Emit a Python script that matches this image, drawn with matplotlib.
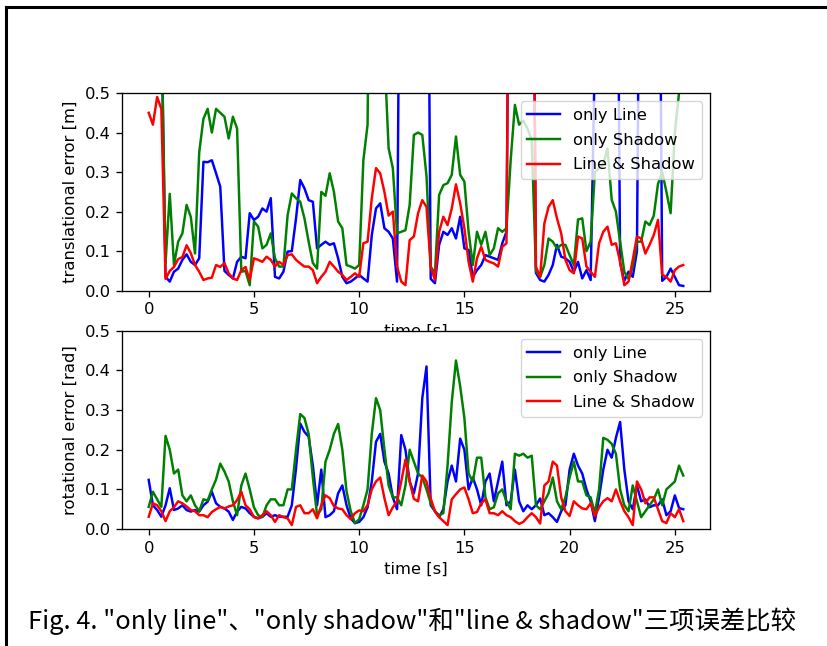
import numpy as np
import matplotlib
matplotlib.use("Agg")
import matplotlib.pyplot as plt
from matplotlib.lines import Line2D

# sampling of the logged errors [s]
dt = 0.2
n = 128
time = np.round(np.arange(n) * dt, 1)

HI = 1.5  # values above the 0.5 limit (clipped in the figure)

# translational error [m]
trans_line = [
    HI, HI, HI, 0.7, 0.035, 0.023, 0.048, 0.056, 0.078, 0.092,
    0.073, 0.065, 0.082, 0.326, 0.325, 0.33, 0.297, 0.263, 0.05, 0.04,
    0.031, 0.073, 0.086, 0.082, 0.196, 0.179, 0.187, 0.208, 0.2, 0.234,
    0.035, 0.031, 0.048, 0.099, 0.1, 0.183, 0.28, 0.259, 0.229, 0.225,
    0.107, 0.116, 0.124, 0.116, 0.12, 0.082, 0.035, 0.019, 0.023, 0.031,
    0.04, 0.031, 0.023, 0.141, 0.208, 0.221, 0.158, 0.149, 0.132, 0.023,
    HI, HI, HI, HI, HI, HI, HI, 0.03, 0.019, 0.116,
    0.149, 0.141, 0.158, 0.132, 0.187, 0.107, 0.103, 0.035, 0.052, 0.065,
    0.09, 0.086, 0.082, 0.078, 0.12, 0.149, HI, HI, HI, HI,
    HI, HI, 0.045, 0.027, 0.023, 0.04, 0.065, 0.116, 0.086, 0.082,
    0.073, 0.048, 0.073, 0.031, 0.052, 0.027, 0.6, HI, HI, HI,
    HI, HI, 0.07, 0.025, 0.048, 0.035, 0.1, HI, HI, HI,
    HI, HI, 0.025, 0.035, 0.056, 0.035, 0.014, 0.012,
]
trans_shadow = [
    HI, HI, HI, 0.7, 0.07, 0.245, 0.065, 0.124, 0.145, 0.217,
    0.187, 0.094, 0.35, 0.435, 0.46, 0.40, 0.46, 0.45, 0.44, 0.385,
    0.44, 0.41, 0.048, 0.05, 0.014, 0.175, 0.162, 0.107, 0.116, 0.145,
    0.082, 0.061, 0.061, 0.191, 0.246, 0.234, 0.225, 0.183, 0.124, 0.07,
    0.056, 0.25, 0.24, 0.297, 0.25, 0.175, 0.158, 0.065, 0.061, 0.056,
    0.065, 0.33, 0.42, HI, HI, HI, 0.6, 0.36, 0.31, 0.145,
    0.149, 0.153, 0.217, 0.394, 0.40, 0.394, 0.29, 0.061, 0.044, 0.242,
    0.267, 0.272, 0.293, 0.39, 0.293, 0.276, 0.149, 0.065, 0.149, 0.116,
    0.149, 0.09, 0.107, 0.158, 0.149, 0.158, 0.33, 0.47, 0.42, 0.43,
    0.41, 0.38, 0.05, 0.035, 0.065, 0.132, 0.124, 0.107, 0.116, 0.116,
    0.09, 0.065, 0.18, 0.183, 0.1, 0.124, 0.3, 0.31, 0.32, 0.36,
    0.23, 0.2, 0.124, 0.048, 0.03, 0.06, 0.124, 0.124, 0.175, 0.166,
    0.19, 0.27, 0.30, 0.25, 0.196, 0.40, 0.5, 0.7,
]
trans_both = [
    0.45, 0.42, 0.49, 0.46, 0.03, 0.05, 0.06, 0.08, 0.085, 0.115,
    0.095, 0.065, 0.048, 0.027, 0.031, 0.033, 0.065, 0.06, 0.07, 0.044,
    0.031, 0.027, 0.052, 0.06, 0.027, 0.082, 0.078, 0.073, 0.086, 0.078,
    0.061, 0.073, 0.065, 0.09, 0.092, 0.078, 0.069, 0.061, 0.061, 0.052,
    0.019, 0.035, 0.048, 0.073, 0.061, 0.048, 0.04, 0.027, 0.035, 0.044,
    0.035, 0.12, 0.124, 0.234, 0.31, 0.297, 0.25, 0.19, 0.2, 0.061,
    0.023, 0.014, 0.128, 0.137, 0.196, 0.229, 0.212, 0.061, 0.027, 0.149,
    0.187, 0.166, 0.208, 0.269, 0.221, 0.158, 0.073, 0.023, 0.082, 0.111,
    0.078, 0.073, 0.069, 0.061, 0.111, 0.12, HI, HI, HI, HI,
    HI, HI, 0.06, 0.035, 0.17, 0.212, 0.229, 0.183, 0.145, 0.078,
    0.052, 0.044, 0.137, 0.132, 0.061, 0.048, 0.035, 0.12, 0.149, 0.162,
    0.116, 0.12, 0.073, 0.014, 0.023, 0.078, 0.137, 0.132, 0.094, 0.116,
    0.141, 0.179, 0.04, 0.035, 0.023, 0.052, 0.061, 0.065,
]

# rotational error [rad]
rot_line = [
    0.124, 0.06, 0.048, 0.031, 0.06, 0.103, 0.048, 0.052, 0.06, 0.048,
    0.044, 0.048, 0.044, 0.06, 0.069, 0.094, 0.065, 0.056, 0.052, 0.044,
    0.023, 0.044, 0.056, 0.052, 0.04, 0.031, 0.027, 0.031, 0.04, 0.031,
    0.035, 0.031, 0.031, 0.031, 0.06, 0.153, 0.266, 0.245, 0.233, 0.16,
    0.06, 0.15, 0.03, 0.035, 0.045, 0.09, 0.11, 0.06, 0.027, 0.015,
    0.018, 0.03, 0.055, 0.12, 0.22, 0.24, 0.17, 0.14, 0.08, 0.05,
    0.237, 0.2, 0.12, 0.09, 0.14, 0.33, 0.41, 0.06, 0.045, 0.03,
    0.05, 0.12, 0.16, 0.12, 0.228, 0.2, 0.1, 0.13, 0.1, 0.06,
    0.12, 0.14, 0.07, 0.12, 0.17, 0.06, 0.07, 0.15, 0.07, 0.045,
    0.06, 0.05, 0.06, 0.077, 0.035, 0.04, 0.03, 0.018, 0.045, 0.06,
    0.15, 0.19, 0.16, 0.14, 0.1, 0.07, 0.02, 0.08, 0.15, 0.2,
    0.18, 0.23, 0.27, 0.15, 0.07, 0.05, 0.11, 0.07, 0.075, 0.055,
    0.06, 0.06, 0.075, 0.035, 0.045, 0.085, 0.053, 0.05,
]
rot_shadow = [
    0.056, 0.094, 0.075, 0.056, 0.235, 0.2, 0.14, 0.15, 0.085, 0.07,
    0.085, 0.06, 0.045, 0.075, 0.072, 0.1, 0.125, 0.165, 0.145, 0.12,
    0.07, 0.035, 0.11, 0.14, 0.1, 0.055, 0.035, 0.03, 0.06, 0.075,
    0.075, 0.06, 0.06, 0.1, 0.1, 0.2, 0.29, 0.28, 0.24, 0.13,
    0.035, 0.05, 0.17, 0.2, 0.24, 0.265, 0.2, 0.095, 0.045, 0.015,
    0.025, 0.06, 0.1, 0.24, 0.33, 0.3, 0.2, 0.11, 0.08, 0.08,
    0.06, 0.11, 0.2, 0.17, 0.14, 0.13, 0.1, 0.065, 0.045, 0.035,
    0.04, 0.16, 0.32, 0.425, 0.36, 0.28, 0.14, 0.12, 0.18, 0.18,
    0.08, 0.05, 0.055, 0.09, 0.1, 0.07, 0.05, 0.19, 0.185, 0.19,
    0.18, 0.185, 0.06, 0.05, 0.07, 0.09, 0.13, 0.07, 0.05, 0.08,
    0.13, 0.17, 0.12, 0.12, 0.085, 0.08, 0.04, 0.1, 0.23, 0.225,
    0.215, 0.19, 0.1, 0.06, 0.045, 0.11, 0.07, 0.03, 0.045, 0.06,
    0.075, 0.1, 0.06, 0.1, 0.11, 0.12, 0.16, 0.135,
]
rot_both = [
    0.031, 0.065, 0.06, 0.045, 0.02, 0.045, 0.055, 0.07, 0.065, 0.057,
    0.048, 0.045, 0.035, 0.035, 0.03, 0.043, 0.05, 0.056, 0.052, 0.057,
    0.06, 0.073, 0.094, 0.06, 0.05, 0.03, 0.027, 0.035, 0.045, 0.035,
    0.018, 0.035, 0.03, 0.027, 0.01, 0.056, 0.06, 0.04, 0.04, 0.05,
    0.027, 0.06, 0.085, 0.078, 0.058, 0.052, 0.05, 0.035, 0.025, 0.04,
    0.047, 0.045, 0.06, 0.1, 0.12, 0.13, 0.078, 0.035, 0.055, 0.07,
    0.12, 0.175, 0.12, 0.076, 0.07, 0.135, 0.12, 0.077, 0.045, 0.03,
    0.02, 0.01, 0.075, 0.088, 0.1, 0.105, 0.075, 0.04, 0.043, 0.065,
    0.075, 0.04, 0.04, 0.035, 0.045, 0.035, 0.03, 0.02, 0.013, 0.018,
    0.03, 0.04, 0.03, 0.014, 0.11, 0.12, 0.17, 0.16, 0.08, 0.045,
    0.033, 0.07, 0.06, 0.052, 0.05, 0.065, 0.033, 0.055, 0.07, 0.078,
    0.07, 0.1, 0.07, 0.045, 0.03, 0.01, 0.12, 0.1, 0.065, 0.08,
    0.08, 0.05, 0.02, 0.015, 0.04, 0.03, 0.05, 0.02,
]

labels = ["only Line", "only Shadow", "Line & Shadow"]
colors = ["blue", "green", "red"]
caption = 'Fig. 4. "only line"、"only shadow"和"line & shadow"三项误差比较'

# the chart is a default matplotlib figure scaled up ~1.18x
s = 1.18
plt.rcParams.update({
    "font.size": 10 * s,
    "lines.linewidth": 1.5 * s,
    "axes.linewidth": 0.8 * s,
    "xtick.major.size": 3.5 * s,
    "ytick.major.size": 3.5 * s,
    "xtick.major.width": 0.8 * s,
    "ytick.major.width": 0.8 * s,
    "xtick.major.pad": 3.5 * s,
    "ytick.major.pad": 3.5 * s,
    "axes.labelpad": 4.0 * s,
    "legend.labelspacing": 0.6,
})

fig = plt.figure(figsize=(8.27, 6.46), dpi=100)
ax1 = fig.add_axes([0.1475, 0.550, 0.711, 0.306])
ax2 = fig.add_axes([0.1475, 0.181, 0.711, 0.307])

for ax, series, ylab in [
    (ax1, [trans_line, trans_shadow, trans_both], "translational error [m]"),
    (ax2, [rot_line, rot_shadow, rot_both], "rotational error [rad]"),
]:
    for y, c, lab in zip(series, colors, labels):
        ax.plot(time, y, color=c, label=lab)
    ax.set_ylim(0, 0.5)
    ax.set_xlim(-1.27, 26.67)
    ax.set_xlabel("time [s]")
    ax.set_ylabel(ylab)
    ax.legend(loc="upper right")

# document frame around the figure
fig.add_artist(Line2D([0.0073, 0.0073], [0.0, 0.989], transform=fig.transFigure,
                      color="black", lw=2.2))
fig.add_artist(Line2D([0.0073, 1.0], [0.989, 0.989], transform=fig.transFigure,
                      color="black", lw=2.2))

fig.text(0.034, 0.038, caption, fontsize=18.3, va="center", ha="left",
         family=["Noto Sans CJK SC", "DejaVu Sans"])

fig.savefig("out.png", dpi=100)
